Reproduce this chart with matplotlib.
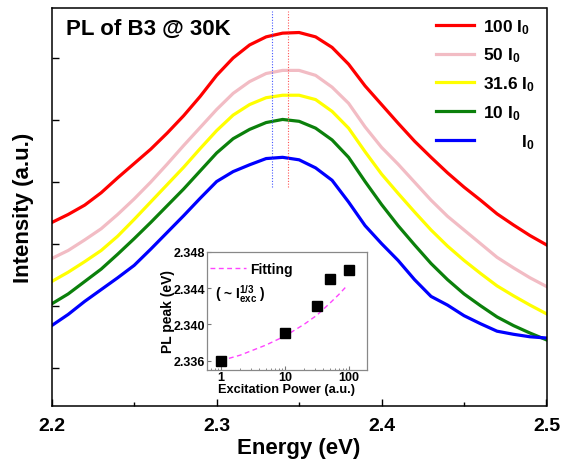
import matplotlib
matplotlib.use("Agg")
import matplotlib.pyplot as plt
from matplotlib.ticker import MultipleLocator, NullFormatter, LogLocator

plt.rcParams['font.family'] = ['Liberation Sans', 'DejaVu Sans']
plt.rcParams['font.weight'] = 'bold'
plt.rcParams['mathtext.fontset'] = 'custom'
plt.rcParams['mathtext.rm'] = 'Liberation Sans:bold'
plt.rcParams['mathtext.bf'] = 'Liberation Sans:bold'
plt.rcParams['mathtext.it'] = 'Liberation Sans:bold'

# ---------------- data ----------------
energy = [2.20, 2.21, 2.22, 2.23, 2.24, 2.25, 2.26, 2.27, 2.28, 2.29, 2.30,
          2.31, 2.32, 2.33, 2.34, 2.35, 2.36, 2.37, 2.38, 2.39, 2.40,
          2.41, 2.42, 2.43, 2.44, 2.45, 2.46, 2.47, 2.48, 2.49, 2.50]

int_100 = [2.35, 2.48, 2.63, 2.83, 3.07, 3.30, 3.53, 3.79, 4.07, 4.38, 4.72,
           5.00, 5.21, 5.34, 5.40, 5.41, 5.34, 5.17, 4.90, 4.55, 4.25,
           3.95, 3.66, 3.40, 3.15, 2.92, 2.71, 2.49, 2.31, 2.14, 1.99]
int_50 = [1.77, 1.90, 2.07, 2.25, 2.48, 2.73, 3.00, 3.29, 3.59, 3.88, 4.17,
          4.43, 4.62, 4.75, 4.80, 4.80, 4.72, 4.53, 4.27, 3.89, 3.56,
          3.29, 3.00, 2.71, 2.45, 2.23, 2.01, 1.79, 1.62, 1.46, 1.32]
int_31 = [1.40, 1.55, 1.72, 1.90, 2.13, 2.40, 2.68, 2.96, 3.24, 3.54, 3.83,
          4.08, 4.25, 4.36, 4.40, 4.40, 4.33, 4.14, 3.87, 3.49, 3.13,
          2.82, 2.52, 2.23, 1.97, 1.74, 1.53, 1.33, 1.17, 1.02, 0.88]
int_10 = [1.04, 1.20, 1.40, 1.60, 1.84, 2.09, 2.35, 2.62, 2.89, 3.18, 3.47,
          3.70, 3.85, 3.96, 4.01, 3.98, 3.87, 3.68, 3.40, 3.01, 2.64,
          2.30, 1.99, 1.69, 1.43, 1.20, 1.01, 0.83, 0.69, 0.57, 0.46]
int_1 = [0.69, 0.87, 1.08, 1.27, 1.46, 1.66, 1.92, 2.19, 2.46, 2.74, 3.01,
         3.17, 3.28, 3.38, 3.40, 3.36, 3.23, 3.03, 2.68, 2.30, 2.01,
         1.74, 1.43, 1.16, 1.02, 0.85, 0.72, 0.60, 0.55, 0.51, 0.49]

labels = [r"100 $\mathbf{I_0}$", r"50 $\mathbf{I_0}$", r"31.6 $\mathbf{I_0}$",
          r"10 $\mathbf{I_0}$", r"        $\mathbf{I_0}$"]
colors = ['#FF0000', '#F2BCC4', '#FFFF00', '#0B800B', '#0000FF']

peak_blue_E = 2.3338
peak_red_E = 2.3431
vline_range = [2.92, 5.75]

xticks_main = [2.2, 2.3, 2.4, 2.5]
xtick_labels = ['2.2', '2.3', '2.4', '2.5']

# inset data
power = [1, 10, 31.6, 50, 100]
pl_peak = [2.336, 2.339, 2.342, 2.345, 2.346]
fit_power = [1, 2, 5, 10, 20, 31.6, 50, 70, 92]
fit_peak = [2.3360, 2.3366, 2.3377, 2.3387, 2.3400, 2.3410, 2.3423, 2.3433, 2.3442]
inset_yticks = [2.336, 2.340, 2.344, 2.348]
inset_xticks = [1, 10, 100]

# ---------------- figure ----------------
W, H = 563, 464
fig = plt.figure(figsize=(W / 100, H / 100), dpi=100)

def px_axes(x0, y0, x1, y1):
    return [x0 / W, 1 - y1 / H, (x1 - x0) / W, (y1 - y0) / H]

ax = fig.add_axes(px_axes(51.7, 9.3, 546.5, 406.7))
series = [int_100, int_50, int_31, int_10, int_1]
handles = []
for vals, c, lab in zip(series, colors, labels):
    h, = ax.plot(energy, vals, color=c, lw=2.3, label=lab, solid_joinstyle='round')
    handles.append(h)

ax.vlines(peak_blue_E, vline_range[0], vline_range[1], colors='#4455FF', linestyles=(0, (1, 1.5)), lw=0.8)
ax.vlines(peak_red_E, vline_range[0], vline_range[1], colors='#FF5555', linestyles=(0, (1, 1.5)), lw=0.8)

ax.set_xlim(2.2, 2.5)
ax.set_ylim(-0.6, 5.8)
ax.set_xticks(xticks_main)
ax.set_xticklabels(xtick_labels)
ax.xaxis.set_minor_locator(MultipleLocator(0.05))
ax.set_yticks([0, 1, 2, 3, 4, 5])
ax.set_yticklabels([])
ax.tick_params(axis='both', which='major', direction='in', length=5, width=1.0,
               labelsize=14, pad=8, top=False, right=False)
ax.tick_params(axis='both', which='minor', direction='in', length=3, width=1.0, top=False, right=False)
for lbl in ax.get_xticklabels():
    lbl.set_fontweight('bold')
for s in ax.spines.values():
    s.set_linewidth(1.1)

ax.set_xlabel('Energy (eV)', fontsize=16, fontweight='bold', labelpad=2)
ax.set_ylabel('Intensity (a.u.)', fontsize=16, fontweight='bold', labelpad=5)

ax.text(66 / W, 1 - 29 / H, 'PL of B3 @ 30K', transform=fig.transFigure, fontsize=16,
        fontweight='bold', ha='left', va='center')

leg = ax.legend(handles=handles, loc='upper left', bbox_to_anchor=(436 / W, 1 - 18 / H),
                bbox_transform=fig.transFigure, frameon=False, fontsize=12.5,
                handlelength=2.2, handletextpad=0.5, labelspacing=0.58, borderpad=0,
                borderaxespad=0)

# ---------------- inset ----------------
ax2 = fig.add_axes(px_axes(206.7, 252.7, 366.7, 370.7))
ax2.set_facecolor('white')
ax2.plot(fit_power, fit_peak, color='#FF44FF', lw=1.0, ls=(0, (3.5, 2.5)), label='Fitting')
ax2.plot(power, pl_peak, ls='none', marker='s', ms=6.5, color='black')
ax2.set_xscale('log')
ax2.set_xlim(0.6, 190)
ax2.set_ylim(2.335, 2.348)
ax2.set_yticks(inset_yticks)
ax2.set_yticklabels(['%.3f' % v for v in inset_yticks])
ax2.set_xticks(inset_xticks)
ax2.set_xticklabels([str(v) for v in inset_xticks])
ax2.xaxis.set_minor_locator(LogLocator(base=10, subs=range(2, 10)))
ax2.xaxis.set_minor_formatter(NullFormatter())
ax2.tick_params(axis='both', which='major', direction='in', length=3, width=0.8,
                labelsize=9, pad=1, colors='#777777', labelcolor='black')
ax2.tick_params(axis='both', which='minor', direction='in', length=1.6, width=0.6, colors='#777777')
for lbl in ax2.get_xticklabels() + ax2.get_yticklabels():
    lbl.set_fontweight('bold')
for s in ax2.spines.values():
    s.set_color('#888888')
    s.set_linewidth(0.9)
ax2.set_xlabel('Excitation Power (a.u.)', fontsize=9.2, fontweight='bold', labelpad=0)
ax2.set_ylabel('PL peak (eV)', fontsize=10, fontweight='bold', labelpad=-1)
ax2.legend(loc='upper left', bbox_to_anchor=(0.02, 0.91), frameon=False, fontsize=10,
           handlelength=2.6, handletextpad=0.3, borderpad=0, borderaxespad=0)
ax2.text(0.05, 0.65, r"( ~ $\mathbf{I_{exc}^{1/3}}$ )", transform=ax2.transAxes,
         fontsize=10, fontweight='bold', ha='left', va='center')

fig.savefig('out.png', dpi=100)
